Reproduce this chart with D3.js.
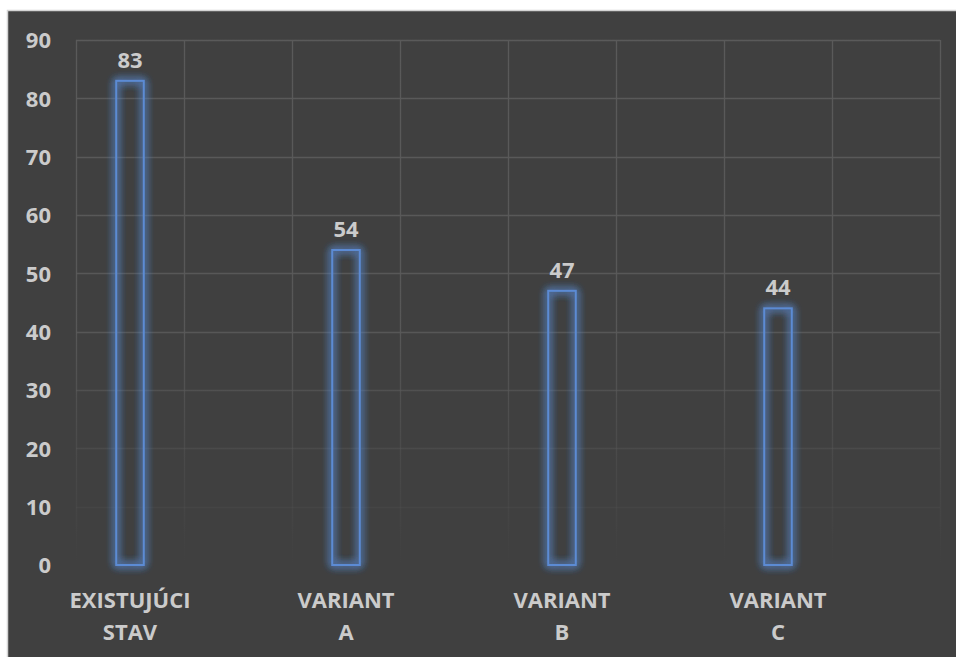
<!DOCTYPE html>
<html>
<head>
<meta charset="utf-8">
<script src="https://cdn.jsdelivr.net/npm/d3@7"></script>
<style>
  html, body { margin: 0; padding: 0; background: #ffffff; }
  svg { display: block; }
</style>
</head>
<body>
<svg id="chart" width="956" height="657"></svg>
<script>
// ---- data ----
const categories = ["EXISTUJÚCI STAV", "VARIANT A", "VARIANT B", "VARIANT C"];
const values = [83, 54, 47, 44];
const yTicks = [0, 10, 20, 30, 40, 50, 60, 70, 80, 90];
const slots = ["bar", "gap"];

const W = 956, H = 657;
const frame = { left: 7, top: 10 };
const plot = { left: 76, right: 940, top: 40, bottom: 565 };
const bg = "#404040";
const textColor = "#cbcbcb";
const gridColor = "#5a5a5a";
const barColor = "#5b8bd4";
const font = "'Open Sans', Lato, sans-serif";
const fs = 22;

const svg = d3.select("#chart");
const defs = svg.append("defs");

// gridline fade gradient
const grad = defs.append("linearGradient")
  .attr("id", "gridFade").attr("gradientUnits", "userSpaceOnUse")
  .attr("x1", 0).attr("x2", 0).attr("y1", plot.top).attr("y2", plot.bottom);
grad.append("stop").attr("offset", "0%").attr("stop-color", gridColor).attr("stop-opacity", 1);
grad.append("stop").attr("offset", "55%").attr("stop-color", gridColor).attr("stop-opacity", 0.9);
grad.append("stop").attr("offset", "78%").attr("stop-color", gridColor).attr("stop-opacity", 0.4);
grad.append("stop").attr("offset", "100%").attr("stop-color", gridColor).attr("stop-opacity", 0);

// glow filter
const glow = defs.append("filter").attr("id", "glow")
  .attr("x", "-80%").attr("y", "-10%").attr("width", "260%").attr("height", "120%");
glow.append("feGaussianBlur").attr("in", "SourceGraphic").attr("stdDeviation", 4).attr("result", "b");
const merge = glow.append("feMerge");
merge.append("feMergeNode").attr("in", "b");
merge.append("feMergeNode").attr("in", "b");
merge.append("feMergeNode").attr("in", "b");
merge.append("feMergeNode").attr("in", "SourceGraphic");

// background frame
svg.append("rect").attr("x", 0).attr("y", 0).attr("width", W).attr("height", H).attr("fill", "#ffffff");
svg.append("rect").attr("x", frame.left + 0.5).attr("y", frame.top + 0.5)
  .attr("width", W - frame.left + 2).attr("height", H - frame.top + 2)
  .attr("fill", bg).attr("stroke", "#d4d4d4").attr("stroke-width", 1.5);

// scales
const x0 = d3.scaleBand().domain(categories).range([plot.left, plot.right]).paddingInner(0).paddingOuter(0);
const x1 = d3.scaleBand().domain(slots).range([0, x0.bandwidth()]);
const y = d3.scaleLinear().domain([0, 90]).range([plot.bottom, plot.top]);
const barW = x1.bandwidth() * 0.255;

// gridlines
const grid = svg.append("g").attr("stroke", "url(#gridFade)").attr("stroke-width", 1.3).attr("fill", "none");
grid.selectAll("line.h").data(yTicks.filter(d => d > 0)).join("line")
  .attr("class", "h")
  .attr("x1", plot.left).attr("x2", plot.right)
  .attr("y1", d => Math.round(y(d)) + 0.5).attr("y2", d => Math.round(y(d)) + 0.5);
const vx = [];
categories.forEach(c => slots.forEach(s => vx.push(x0(c) + x1(s))));
vx.push(plot.right);
grid.selectAll("line.v").data(vx).join("line")
  .attr("class", "v")
  .attr("x1", d => Math.round(d) + 0.5).attr("x2", d => Math.round(d) + 0.5)
  .attr("y1", plot.top).attr("y2", plot.bottom);

// y axis labels
const yAxis = d3.axisLeft(y).tickValues(yTicks).tickSize(0).tickPadding(0);
const yg = svg.append("g").attr("transform", `translate(51,0)`).call(yAxis);
yg.select(".domain").remove();
yg.selectAll("text").attr("fill", textColor).attr("font-family", font)
  .attr("font-weight", 700).attr("font-size", fs).attr("dy", "0.36em");

// bars
const data = categories.map((c, i) => ({ c, v: values[i] }));
const bx = d => x0(d.c) + x1("bar") + (x1.bandwidth() - barW) / 2;
svg.append("g").selectAll("rect").data(data).join("rect")
  .attr("x", bx).attr("y", d => y(d.v))
  .attr("width", barW).attr("height", d => y(0) - y(d.v))
  .attr("fill", "none").attr("stroke", barColor).attr("stroke-width", 2)
  .attr("filter", "url(#glow)");

// data labels
svg.append("g").selectAll("text").data(data).join("text")
  .attr("x", d => bx(d) + barW / 2).attr("y", d => y(d.v) - 13)
  .attr("text-anchor", "middle").attr("fill", textColor)
  .attr("font-family", font).attr("font-weight", 700).attr("font-size", fs)
  .text(d => d.v);

// category labels (x axis)
const xg = svg.append("g");
data.forEach(d => {
  const words = d.c.split(" ");
  const t = xg.append("text")
    .attr("x", bx(d) + barW / 2).attr("y", 608)
    .attr("text-anchor", "middle").attr("fill", textColor)
    .attr("font-family", font).attr("font-weight", 700).attr("font-size", fs);
  words.forEach((w, i) => {
    t.append("tspan").attr("x", bx(d) + barW / 2).attr("dy", i === 0 ? 0 : 32).text(w);
  });
});
</script>
</body>
</html>
